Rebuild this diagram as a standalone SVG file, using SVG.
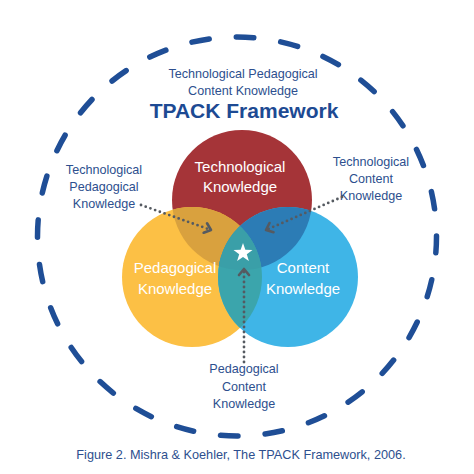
<svg xmlns="http://www.w3.org/2000/svg" width="474" height="474" viewBox="0 0 474 474">
<style>
  text { font-family: "Liberation Sans", Arial, sans-serif; text-anchor: middle; }
  .lbl { font-size: 12.6px; fill: #2d4f8e; }
  .inner { font-size: 15px; fill: #ffffff; }
  .title { font-size: 21px; font-weight: bold; fill: #1d4a93; }
  .cap { font-size: 12.7px; fill: #2d4f8e; }
  .dots { fill: none; stroke: #555a61; stroke-width: 2.8; stroke-linecap: round; stroke-dasharray: 0 5; }
</style>
<defs>
  <circle id="cT" cx="242" cy="200" r="70"/>
  <circle id="cP" cx="192" cy="277" r="70"/>
  <circle id="cC" cx="288" cy="277" r="70"/>
  <clipPath id="clipT"><use href="#cT"/></clipPath>
  <clipPath id="clipP"><use href="#cP"/></clipPath>
  <clipPath id="clipC"><use href="#cC"/></clipPath>
  <marker id="chev" markerUnits="userSpaceOnUse" markerWidth="14" markerHeight="14" refX="7" refY="5" orient="auto" overflow="visible">
    <path d="M1,0 L7,5 L1,10" fill="none" stroke="#555a61" stroke-width="2.6" stroke-linecap="round" stroke-linejoin="round"/>
  </marker>
</defs>
<rect width="474" height="474" fill="#ffffff"/>

<circle cx="237" cy="236.5" r="199.5" fill="none" stroke="#1f4e96" stroke-width="5.5" stroke-linecap="round" stroke-dasharray="17.5 27.27" stroke-dashoffset="1.12"/>

<g id="title">
  <text class="lbl" x="243" y="78">Technological Pedagogical</text>
  <text class="lbl" x="243" y="95">Content Knowledge</text>
  <text class="title" x="244" y="118">TPACK Framework</text>
</g>

<g id="technological-knowledge">
  <use href="#cT" fill="#a53438"/>
</g>
<g id="pedagogical-knowledge">
  <use href="#cP" fill="#fcc045"/>
</g>
<g id="content-knowledge">
  <use href="#cC" fill="#3fb5e7"/>
</g>
<g id="overlaps">
  <g clip-path="url(#clipT)"><use href="#cP" fill="#d9a13e"/></g>
  <g clip-path="url(#clipT)"><use href="#cC" fill="#2c7cb5"/></g>
  <g clip-path="url(#clipP)"><use href="#cC" fill="#3ba5ac"/></g>
  <g clip-path="url(#clipT)"><g clip-path="url(#clipP)"><use href="#cC" fill="#3a9fa8"/></g></g>
</g>

<g id="circle-labels">
  <text class="inner" x="240" y="172">Technological</text>
  <text class="inner" x="240" y="192">Knowledge</text>
  <text class="inner" x="175" y="273">Pedagogical</text>
  <text class="inner" x="175" y="294">Knowledge</text>
  <text class="inner" x="303" y="273">Content</text>
  <text class="inner" x="303" y="294">Knowledge</text>
</g>

<g id="tpack-star">
  <polygon points="243,243 245.35,249.76 252.51,249.91 246.8,254.24 248.88,261.09 243,257 237.12,261.09 239.2,254.24 233.49,249.91 240.65,249.76" fill="#ffffff"/>
</g>

<g id="tpk-label">
  <text class="lbl" x="104" y="174">Technological</text>
  <text class="lbl" x="104" y="191">Pedagogical</text>
  <text class="lbl" x="104" y="208">Knowledge</text>
</g>
<g id="tck-label">
  <text class="lbl" x="371" y="166">Technological</text>
  <text class="lbl" x="371" y="183">Content</text>
  <text class="lbl" x="371" y="200">Knowledge</text>
</g>
<g id="pck-label">
  <text class="lbl" x="244" y="373">Pedagogical</text>
  <text class="lbl" x="244" y="391">Content</text>
  <text class="lbl" x="244" y="408">Knowledge</text>
</g>

<g id="connectors">
  <path class="dots" d="M141,205 L211,230" marker-end="url(#chev)"/>
  <path class="dots" d="M342,197 L266,230" marker-end="url(#chev)"/>
  <path class="dots" d="M244,362 L244,269" marker-end="url(#chev)"/>
</g>

<text class="cap" x="241" y="459">Figure 2. Mishra &amp; Koehler, The TPACK Framework, 2006.</text>
</svg>
